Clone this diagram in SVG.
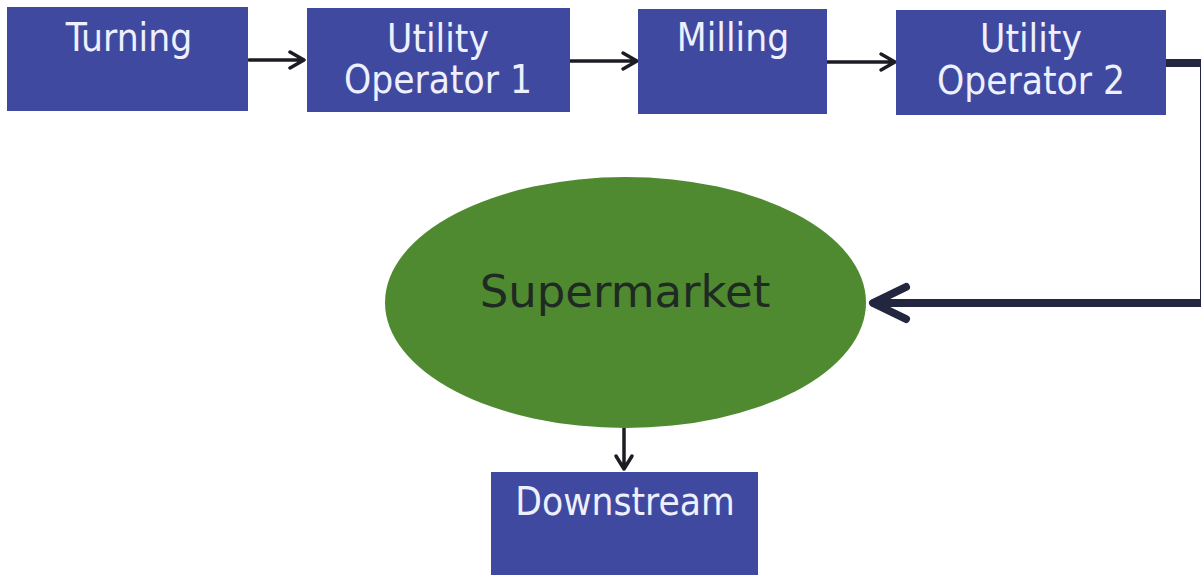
<svg xmlns="http://www.w3.org/2000/svg" width="1201" height="575" viewBox="0 0 1201 575">
<style>
.box{fill:#4049a0}
.lbl{font-family:"DejaVu Sans","Liberation Sans",sans-serif;font-stretch:condensed;font-size:38.5px;fill:#eef0ff;text-anchor:middle}
.big{font-family:"DejaVu Sans","Liberation Sans",sans-serif;font-size:45px;fill:#1f2a22;text-anchor:middle}
.thin{fill:none;stroke:#1c1c24;stroke-width:3.5;stroke-linecap:round;stroke-linejoin:round}
.thick{fill:none;stroke:#23263f;stroke-width:8;stroke-linecap:round;stroke-linejoin:round}
</style>
<rect width="1201" height="575" fill="#ffffff"/>
<g id="connectors">
<path class="thin" d="M249 60 H303 M290 52 L304 60 L290 68"/>
<path class="thin" d="M570 61 H636 M623 53 L637 61 L623 69"/>
<path class="thin" d="M827 62 H894 M881 54 L895 62 L881 70"/>
<path class="thick" d="M1166 63 H1204 V303 H874" stroke-linecap="butt"/>
<path class="thick" d="M906 287 L873 303 L906 319"/>
<path class="thin" d="M624 428 V469 M616 456 L624 469 L632 456"/>
</g>
<g id="turning">
<rect class="box" x="7" y="7" width="241" height="104"/>
<text class="lbl" x="129" y="51">Turning</text>
</g>
<g id="uo1">
<rect class="box" x="307" y="8" width="263" height="104"/>
<text class="lbl" x="438" y="52">Utility</text>
<text class="lbl" x="438" y="93">Operator 1</text>
</g>
<g id="milling">
<rect class="box" x="638" y="9" width="189" height="105"/>
<text class="lbl" x="733" y="51">Milling</text>
</g>
<g id="uo2">
<rect class="box" x="896" y="10" width="270" height="105"/>
<text class="lbl" x="1031" y="52">Utility</text>
<text class="lbl" x="1031" y="94">Operator 2</text>
</g>
<g id="supermarket">
<ellipse cx="625.5" cy="302.5" rx="240.5" ry="125.5" fill="#4f8a30"/>
<text class="big" x="625" y="307">Supermarket</text>
</g>
<g id="downstream">
<rect class="box" x="491" y="472" width="267" height="110"/>
<text class="lbl" x="625" y="515">Downstream</text>
</g>
</svg>
